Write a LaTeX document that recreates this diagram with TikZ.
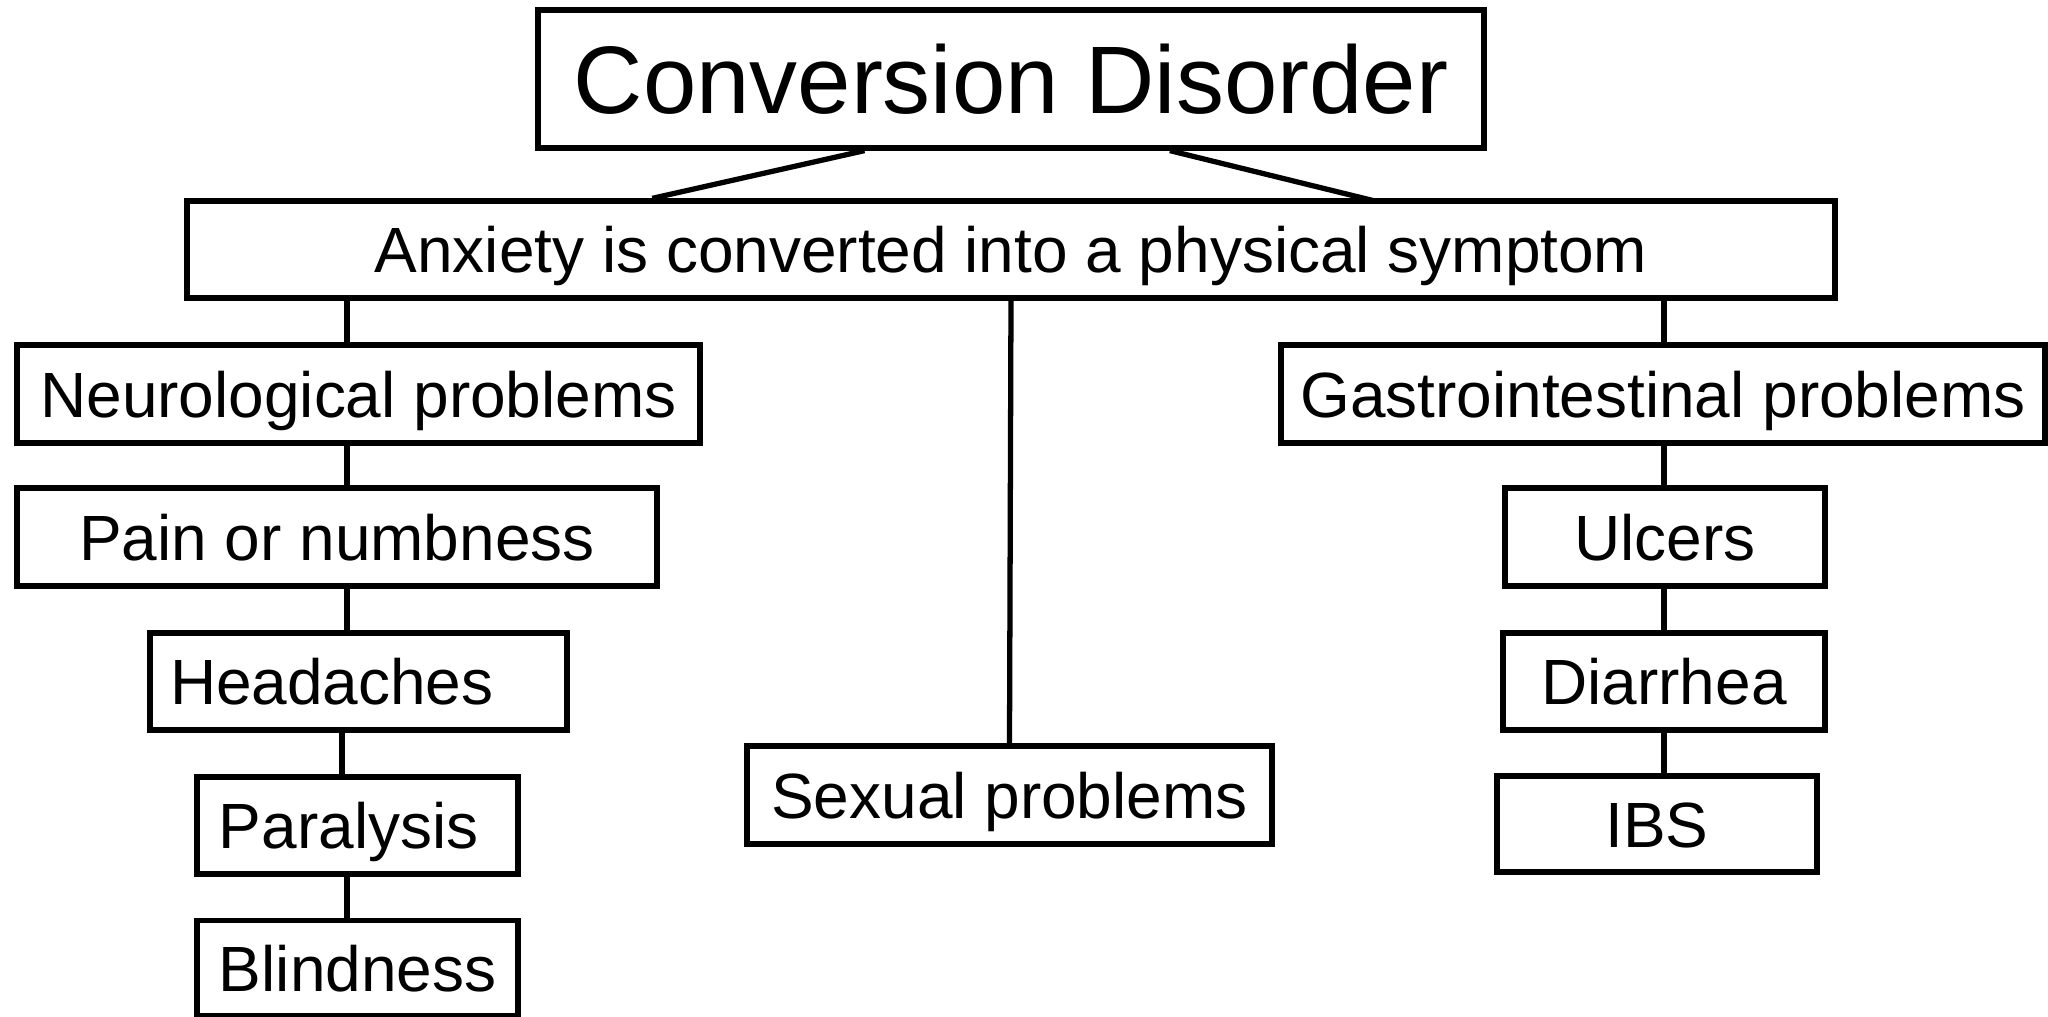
\documentclass[tikz,border=0pt]{standalone}
\usepackage{fontspec}
\setmainfont{Liberation Sans}
\usetikzlibrary{calc}
\tikzset{
  box/.style={draw, line width=1.5pt, inner sep=0pt, text height=13.1pt, text depth=0pt,
    font=\fontsize{18.2}{21}\selectfont},
  leftbox/.style={box, align=left, text width=#1},
  link/.style={line width=1.5pt}
}
\begin{document}
\begin{tikzpicture}
          \useasboundingbox (0,0) rectangle (20.48,-10.17);

          \node[box, minimum width=9.46cm, minimum height=1.38cm, text height=19.7pt, font=\fontsize{27.3}{32}\selectfont] (title) at (10.11,-0.79) {Conversion Disorder};
          \node[box, minimum width=16.48cm, minimum height=0.97cm] (anx) at (10.11,-2.495) {Anxiety is converted into a physical symptom};

          \node[box, minimum width=6.83cm, minimum height=0.98cm] (neuro) at (3.585,-3.94) {Neurological problems};
          \node[box, minimum width=6.40cm, minimum height=0.98cm] (pain) at (3.37,-5.37) {Pain or numbness};
          \node[leftbox=3.77cm, inner xsep=0.2cm, minimum height=0.97cm] (head) at (3.585,-6.815) {Headaches};
          \node[leftbox=2.77cm, inner xsep=0.22cm, minimum height=0.97cm] (para) at (3.575,-8.255) {Paralysis};
          \node[leftbox=2.77cm, inner xsep=0.22cm, minimum height=0.95cm] (blind) at (3.575,-9.68) {Blindness};

          \node[box, minimum width=5.25cm, minimum height=0.98cm] (sex) at (10.095,-7.95) {Sexual problems};

          \node[box, minimum width=7.64cm, minimum height=0.98cm] (gastro) at (16.63,-3.94) {Gastrointestinal problems};
          \node[box, minimum width=3.20cm, minimum height=0.98cm] (ulcer) at (16.65,-5.37) {Ulcers};
          \node[box, minimum width=3.22cm, minimum height=0.97cm] (diar) at (16.64,-6.815) {Diarrhea};
          \node[box, minimum width=3.20cm, minimum height=0.96cm] (ibs) at (16.57,-8.24) {IBS};

          \coordinate (lcol) at (3.47,0);
          \coordinate (hcol) at (3.42,0);
          \coordinate (rcol) at (16.64,0);

          \draw[link] ($(title.south west)!0.346!(title.south east)$) -- ($(anx.north west)!0.283!(anx.north east)$);
          \draw[link] ($(title.south west)!0.667!(title.south east)$) -- ($(anx.north west)!0.721!(anx.north east)+(0,-0.03)$);

          \draw[link] (anx.south -| lcol) -- (neuro.north -| lcol);
          \draw[link] (neuro.south -| lcol) -- (pain.north -| lcol);
          \draw[link] (pain.south -| lcol) -- (head.north -| lcol);
          \draw[link] (head.south -| hcol) -- (para.north -| hcol);
          \draw[link] (para.south -| lcol) -- (blind.north -| lcol);

          \draw[link] (anx.south) -- (sex.north);

          \draw[link] (anx.south -| rcol) -- (gastro.north -| rcol);
          \draw[link] (gastro.south -| rcol) -- (ulcer.north -| rcol);
          \draw[link] (ulcer.south -| rcol) -- (diar.north -| rcol);
          \draw[link] (diar.south -| rcol) -- (ibs.north -| rcol);
      \end{tikzpicture}
\end{document}
